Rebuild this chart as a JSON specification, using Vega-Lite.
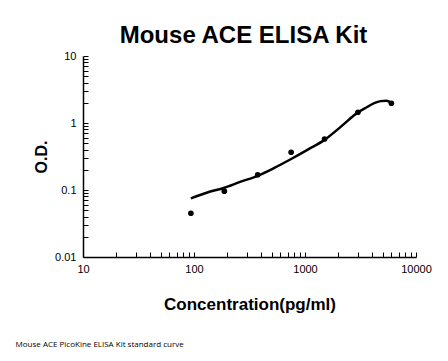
{
  "$schema": "https://vega.github.io/schema/vega-lite/v6.json",
  "padding": {"left": 15, "top": 24, "right": 5, "bottom": 5},
  "background": "white",
  "title": {"text": "Mouse ACE PicoKine ELISA Kit standard curve", "orient": "bottom", "anchor": "start", "font": "Open Sans", "fontSize": 8, "fontWeight": "normal", "color": "#000", "dx": -18, "offset": 29},
  "config": {"view": {"stroke": null}, "font": "Liberation Sans"},
  "datasets": {
    "points": [
      {"conc": 93.75, "od": 0.045},
      {"conc": 187.5, "od": 0.096},
      {"conc": 375, "od": 0.169},
      {"conc": 750, "od": 0.366},
      {"conc": 1500, "od": 0.577},
      {"conc": 3000, "od": 1.445},
      {"conc": 6000, "od": 1.97}
    ],
    "curve": [
      {"conc": 93.75, "od": 0.075},
      {"conc": 130, "od": 0.091},
      {"conc": 187.5, "od": 0.108},
      {"conc": 260, "od": 0.132},
      {"conc": 375, "od": 0.163},
      {"conc": 530, "od": 0.214},
      {"conc": 750, "od": 0.29},
      {"conc": 1060, "od": 0.40},
      {"conc": 1500, "od": 0.56},
      {"conc": 2120, "od": 0.89},
      {"conc": 3000, "od": 1.44},
      {"conc": 3600, "od": 1.72},
      {"conc": 4200, "od": 1.98},
      {"conc": 4800, "od": 2.12},
      {"conc": 5400, "od": 2.15},
      {"conc": 6000, "od": 2.0}
    ]
  },
  "vconcat": [
    {
      "width": 333,
      "height": 201,
      "title": {"text": "Mouse ACE ELISA Kit", "fontSize": 24, "fontWeight": "bold", "font": "Liberation Sans", "color": "#000", "anchor": "middle", "offset": 2, "dx": -6},
      "encoding": {
        "x": {
          "field": "conc", "type": "quantitative",
          "scale": {"type": "log", "domain": [10, 10000], "nice": false},
          "axis": {
            "title": "Concentration(pg/ml)",
            "values": [10,20,30,40,50,60,70,80,90,100,200,300,400,500,600,700,800,900,1000,2000,3000,4000,5000,6000,7000,8000,9000,10000],
            "labelExpr": "abs(log(datum.value)/LN10 - round(log(datum.value)/LN10)) < 0.001 ? datum.value + '' : ''",
            "labelFlush": false,
            "grid": false, "tickSize": -5, "labelPadding": 11, "labelFontSize": 11, "labelColor": "#000",
            "labelFont": "Liberation Sans", "domainColor": "#000", "tickColor": "#000", "domainWidth": 1.5,
            "titleFont": "Liberation Sans", "titleFontSize": 17, "titleFontWeight": "bold", "titleColor": "#000", "titlePadding": 22
          }
        },
        "y": {
          "field": "od", "type": "quantitative",
          "scale": {"type": "log", "domain": [0.01, 10], "nice": false},
          "axis": {
            "title": "O.D.",
            "values": [0.01,0.02,0.03,0.04,0.05,0.06,0.07,0.08,0.09,0.1,0.2,0.3,0.4,0.5,0.6,0.7,0.8,0.9,1,2,3,4,5,6,7,8,9,10],
            "labelExpr": "abs(log(datum.value)/LN10 - round(log(datum.value)/LN10)) < 0.001 ? datum.value + '' : ''",
            "labelFlush": false,
            "grid": false, "tickSize": -5, "labelPadding": 12, "labelFontSize": 11, "labelColor": "#000",
            "labelFont": "Liberation Sans", "domainColor": "#000", "tickColor": "#000", "domainWidth": 1.5,
            "titleFont": "Liberation Sans", "titleFontSize": 16, "titleFontWeight": "bold", "titleColor": "#000", "titlePadding": 5
          }
        }
      },
      "layer": [
        {"data": {"name": "curve"}, "mark": {"type": "line", "interpolate": "monotone", "color": "#000", "strokeWidth": 2.5}},
        {"data": {"name": "points"}, "mark": {"type": "point", "filled": true, "color": "#000", "size": 32, "opacity": 1}}
      ]
    }
  ]
}
